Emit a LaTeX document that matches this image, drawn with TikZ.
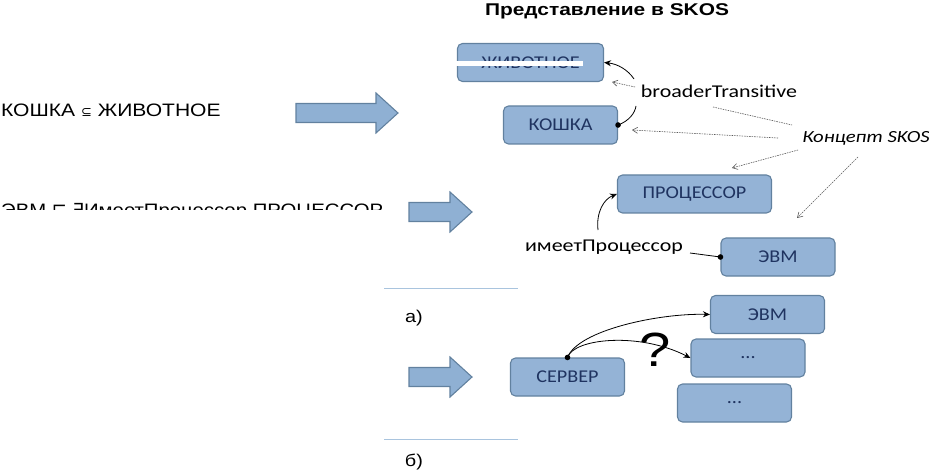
\documentclass[tikz,border=0pt]{standalone}
\usepackage{fontspec}
\setmainfont{Liberation Sans}[FakeStretch=1.17]
\newfontfamily\titlefont{Liberation Sans}[FakeStretch=1.23]
\newfontfamily\axfont{Liberation Sans}[FakeStretch=1.13]
\newfontfamily\boxfont{Carlito}[FakeStretch=1.12]
\newfontfamily\propfont{Carlito}[FakeStretch=1.22]
\newfontfamily\symbfont{DejaVu Sans}
\usetikzlibrary{arrows.meta,calc}
\definecolor{skosFill}{HTML}{94B3D6}
\definecolor{skosLine}{HTML}{62819F}
\definecolor{skosText}{HTML}{1F3360}
\definecolor{fatFill}{HTML}{8FB0D3}
\definecolor{sepLine}{HTML}{A9C4DE}
\newcommand\fatarrow[3]{% start x, centre y, length
  \draw[fatarr] (#1,#2-9.5) -- (#1+#3-22,#2-9.5) -- (#1+#3-22,#2-20) -- (#1+#3,#2)
    -- (#1+#3-22,#2+20) -- (#1+#3-22,#2+9.5) -- (#1,#2+9.5) -- cycle;}

\begin{document}
\begin{tikzpicture}[
        x=1pt,
        y=-1pt,
        concept/.style={rectangle, rounded corners=5pt, fill=skosFill, draw=skosLine, line width=1.1pt,
            minimum width=114, minimum height=38, inner sep=0pt, text=skosText,
            font=\boxfont\fontsize{18}{20}\selectfont},
        fatarr/.style={fill=fatFill, draw=skosLine, line width=1.1pt},
        rel/.style={black, line width=0.8pt},
        relarr/.style={rel, -{Stealth[length=7pt,width=6pt]}},
        pointer/.style={black!65, line width=0.6pt, dash pattern=on 1.5pt off 1pt},
        pointarr/.style={pointer, -{Straight Barb[length=5pt,width=6pt]}},
        prop/.style={font=\propfont\fontsize{18}{20}\selectfont},
        lhs/.style={font=\fontsize{18}{20}\selectfont, inner sep=0pt},
        seprule/.style={sepLine, line width=1pt}
    ]
        \useasboundingbox (0,0) rectangle (929,473);

        % Заголовок и исходные аксиомы
        \node[font=\titlefont\bfseries\fontsize{17}{20}\selectfont] (title) at (607,11) {Представление в SKOS};
        \node[lhs, anchor=base west] (axCat) at (1,117) {КОШКА {\symbfont\fontsize{13}{14}\selectfont ⊆} ЖИВОТНОЕ};
        \begin{scope}
            \clip (0,195) rectangle (400,210);
            \node[lhs, font=\axfont\fontsize{18}{20}\selectfont, anchor=base west] (axPc) at (1,217)
                {ЭВМ {\symbfont ⊑} {\symbfont ∃}ИмеетПроцессор.ПРОЦЕССОР};
        \end{scope}

        % Стрелки перехода
        \fatarrow{296}{113}{102}
        \fatarrow{409}{212}{63}
        \fatarrow{409}{377}{63}

        % Концепты
        \node[concept, minimum width=146] (animal) at (530.5,62.5) {ЖИВОТНОЕ};
        \fill[white] (456,61.5) rectangle (583,66);
        \node[concept] (cat) at (560.5,125) {КОШКА};
        \node[concept, minimum width=154] (cpu) at (694.5,194) {ПРОЦЕССОР};
        \node[concept] (pc) at (778,257) {ЭВМ};
        \node[concept] (pcB) at (767.5,314.5) {ЭВМ};
        \node[concept] (dotsA) at (748,358) {...};
        \node[concept] (dotsB) at (734.5,403) {...};
        \node[concept] (server) at (567.5,377) {СЕРВЕР};

        % Подписи свойств
        \node[prop] (broader) at (719,91) {broaderTransitive};
        \node[prop, font=\propfont\itshape\fontsize{17}{20}\selectfont] (skos) at (866,138) {Концепт SKOS};
        \node[prop] (hasCpu) at (604,247) {имеетПроцессор};
        \node[font=\fontsize{48}{50}\selectfont] (query) at (655,350) {?};
        \node[font=\fontsize{17}{20}\selectfont] (partA) at (414,318) {а)};
        \node[font=\fontsize{17}{20}\selectfont] (partB) at (414,462) {б)};

        \draw[seprule] (384,288) -- (518,288);
        \draw[seprule] (384,439) -- (518,439);

        % broaderTransitive: КОШКА -> ЖИВОТНОЕ
        \coordinate (brLow) at (636,106);
        \coordinate (brHigh) at (634,79);
        \fill (cat.east) circle (2.8);
        \draw[rel] (cat.east) .. controls (629,121) and (635,113) .. (brLow);
        \draw[relarr] (brHigh) .. controls (628,70) and (618,64) .. (animal.east);
        \coordinate (brFrom) at (635,87);
        \coordinate (brTip) at (612,82);
        \draw[pointarr] (brFrom) -- (brTip);

        % Концепт SKOS
        \coordinate (skosCat) at (632,130);
        \coordinate (skosCpu) at (732,168);
        \coordinate (skosPc) at (797,218);
        \draw[pointer] (713,107) -- (792,125);
        \draw[pointarr] (778,138) -- (skosCat);
        \draw[pointarr] (798,150) -- (skosCpu);
        \draw[pointarr] (858,157) -- (skosPc);

        % имеетПроцессор: ЭВМ -> ПРОЦЕССОР
        \coordinate (hpUp) at (598,230);
        \coordinate (hpRight) at (690,253);
        \draw[relarr] (hpUp) .. controls (596,212) and (604,199) .. (cpu.west);
        \fill (pc.west) circle (2.8);
        \draw[rel] (hpRight) -- (pc.west);

        % СЕРВЕР -> ?
        \fill (server.north) circle (2.8);
        \draw[relarr] (server.north) .. controls (578,330) and (660,313) .. (pcB.west);
        \draw[relarr] (server.north) .. controls (574,338) and (640,332) .. (dotsA.west);
\end{tikzpicture}
\end{document}
